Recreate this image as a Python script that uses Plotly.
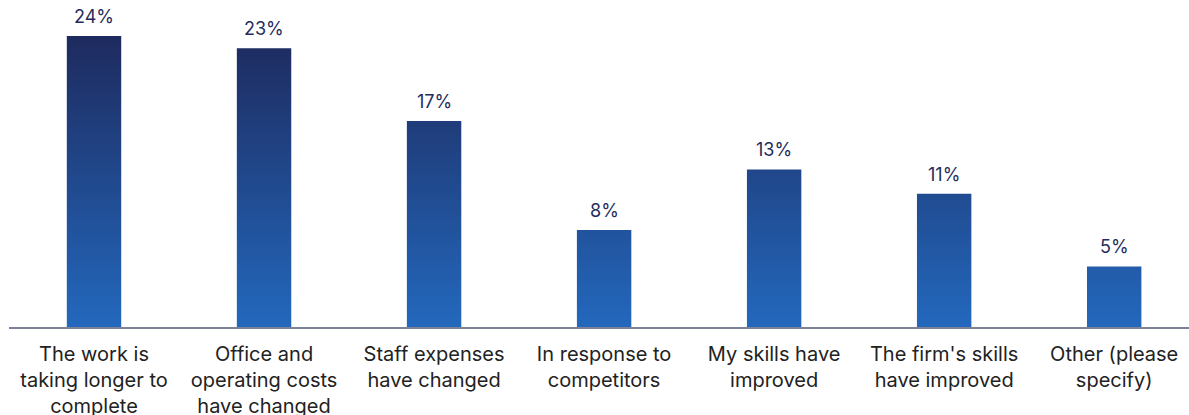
import plotly.graph_objects as go

# Survey responses: reasons for changing fees
categories = [
    "The work is<br>taking longer to<br>complete",
    "Office and<br>operating costs<br>have changed",
    "Staff expenses<br>have changed",
    "In response to<br>competitors",
    "My skills have<br>improved",
    "The firm's skills<br>have improved",
    "Other (please<br>specify)",
]
values = [24, 23, 17, 8, 13, 11, 5]
value_labels = ["24%", "23%", "17%", "8%", "13%", "11%", "5%"]

BAR_WIDTH = 0.32
TOP_COLOR = "#1e2a5e"
BOTTOM_COLOR = "#2368bd"
gmax = max(values)

fig = go.Figure()

# Each bar is a filled rectangle with a vertical gradient shared across the chart
for i, v in enumerate(values):
    x0, x1 = i - BAR_WIDTH / 2, i + BAR_WIDTH / 2
    fig.add_trace(go.Scatter(
        x=[x0, x1, x1, x0, x0],
        y=[0, 0, v, v, 0],
        mode="lines",
        line=dict(width=0),
        fill="toself",
        fillgradient=dict(
            type="vertical",
            start=0,
            stop=gmax,
            colorscale=[[0, BOTTOM_COLOR], [1, TOP_COLOR]],
        ),
        hoverinfo="skip",
        showlegend=False,
    ))

# Value labels above the bars
for i, (v, lab) in enumerate(zip(values, value_labels)):
    fig.add_annotation(
        x=i, y=v, text=lab,
        showarrow=False,
        xanchor="center", yanchor="bottom",
        yshift=7,
        font=dict(family="Inter", size=18, color="#1f2d5c"),
    )

fig.update_layout(
    width=1189,
    height=415,
    margin=dict(l=9, r=0, t=0, b=88),
    plot_bgcolor="white",
    paper_bgcolor="white",
    xaxis=dict(
        range=[-0.5, 6.44],
        tickmode="array",
        tickvals=list(range(len(categories))),
        ticktext=categories,
        showgrid=False,
        zeroline=False,
        showline=True,
        linecolor="#7d8296",
        linewidth=2,
        ticks="outside",
        ticklen=8,
        tickcolor="rgba(0,0,0,0)",
        tickfont=dict(family="Inter", size=20, color="#222222"),
        automargin=False,
    ),
    yaxis=dict(
        range=[0, 26.97],
        visible=False,
        automargin=False,
    ),
)

fig.write_html("out.html")
